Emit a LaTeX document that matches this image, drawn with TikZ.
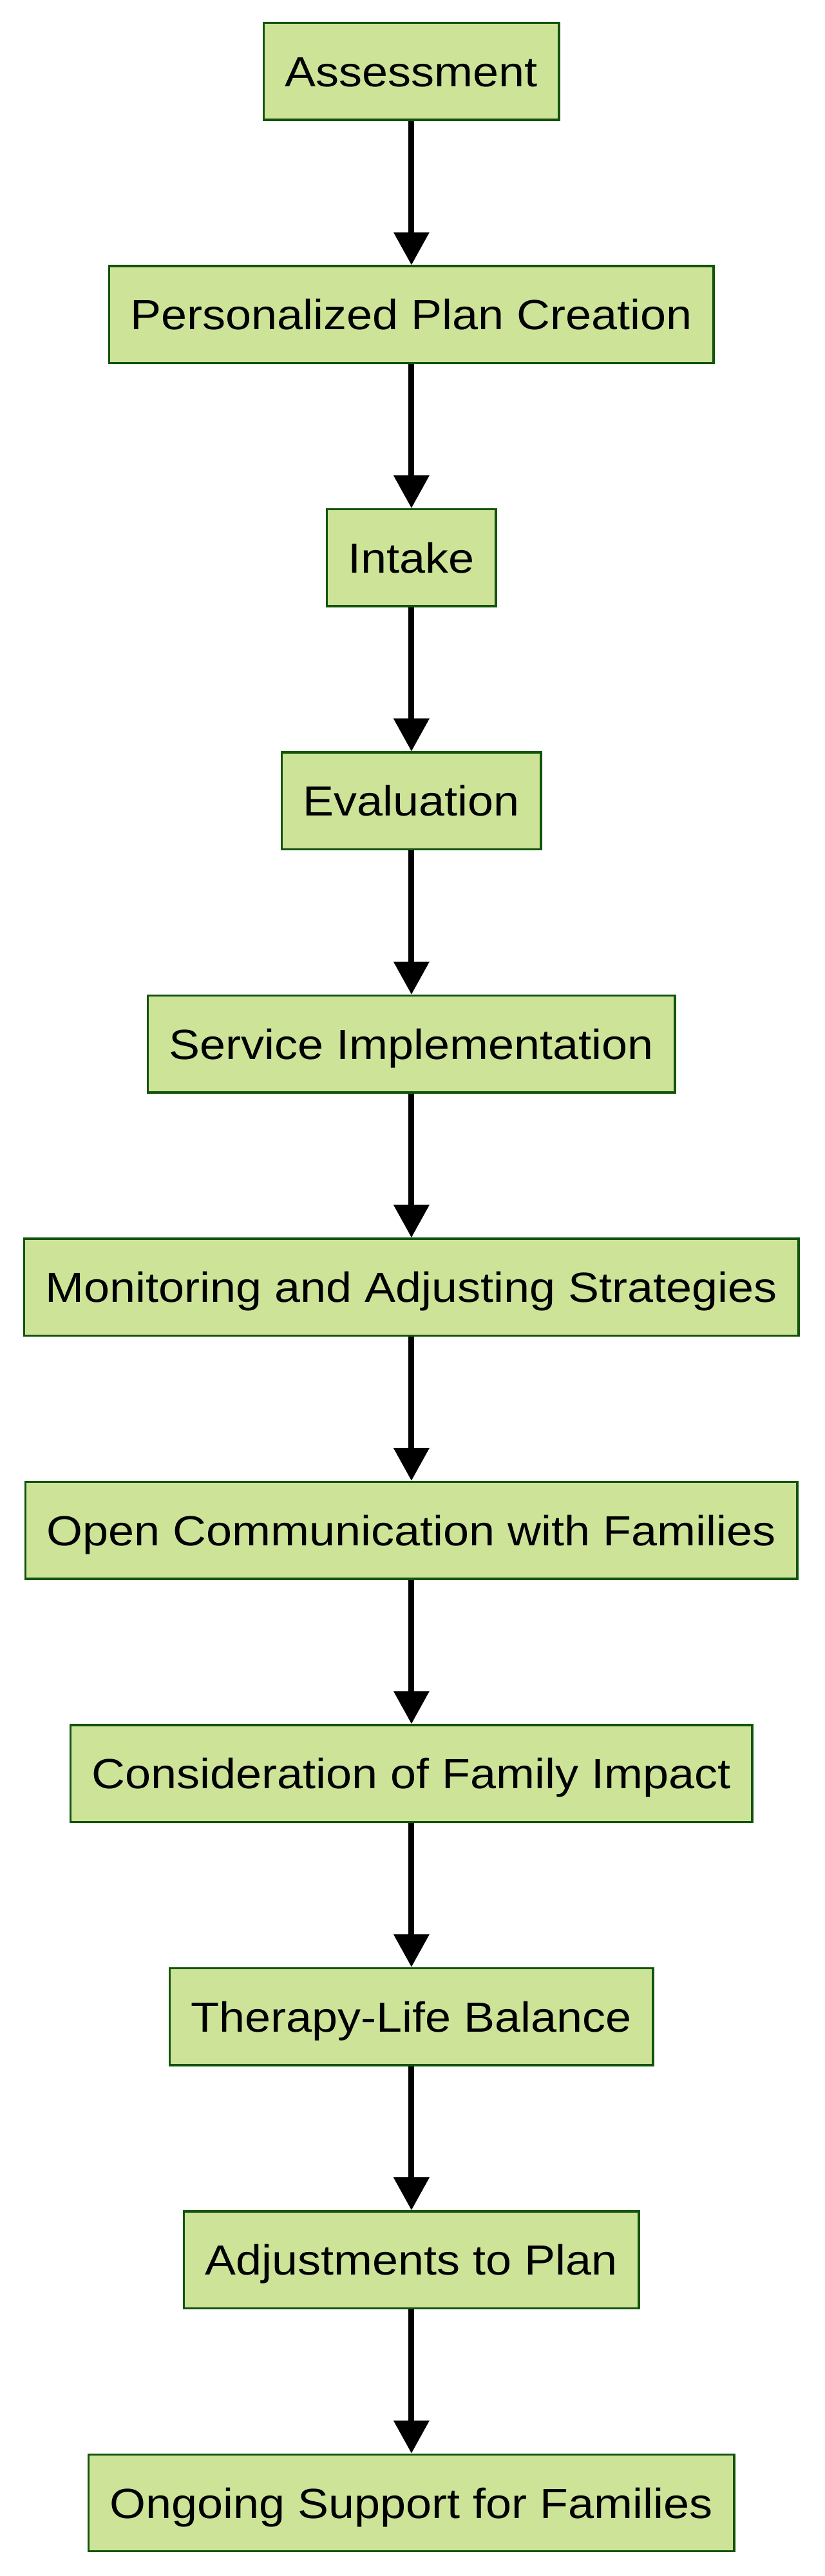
\documentclass[tikz,border=0pt]{standalone}
\usepackage{fontspec}
\setmainfont{Liberation Sans}[FakeStretch=1.1]
\usetikzlibrary{arrows.meta}
\definecolor{boxfill}{HTML}{CDE498}
\definecolor{boxline}{HTML}{13540C}
\tikzset{
	stepbox/.style = {draw = boxline, fill = boxfill, line width = 0.75pt, minimum height = 1.18cm, inner xsep = 0.26cm, text height = 0.5cm, text depth = 0.132cm, font = \fontsize{14.6}{17}\selectfont},
	flow/.style = {line width = 2pt, -{Triangle[length = 0.4cm, width = 0.42cm]}}
}
\begin{document}
\begin{tikzpicture}[x = 0.02cm, y = -0.02cm]
	\useasboundingbox (0,0) rectangle (502,1568);
	\node [stepbox] (assess) at (250.5,43.5) {Assessment};
	\node [stepbox] (plan) at (250.5,191.5) {Personalized Plan Creation};
	\node [stepbox] (intake) at (250.5,339.5) {Intake};
	\node [stepbox] (eval) at (250.5,487.5) {Evaluation};
	\node [stepbox] (service) at (250.5,635.5) {Service Implementation};
	\node [stepbox] (monitor) at (250.5,783.5) {Monitoring and Adjusting Strategies};
	\node [stepbox] (comms) at (250.5,931.5) {Open Communication with Families};
	\node [stepbox] (impact) at (250.5,1079.5) {Consideration of Family Impact};
	\node [stepbox] (balance) at (250.5,1227.5) {Therapy-Life Balance};
	\node [stepbox] (adjust) at (250.5,1375.5) {Adjustments to Plan};
	\node [stepbox] (support) at (250.5,1523.5) {Ongoing Support for Families};
	%\draw arrows
	\draw [flow] (assess) -- (plan);
	\draw [flow] (plan) -- (intake);
	\draw [flow] (intake) -- (eval);
	\draw [flow] (eval) -- (service);
	\draw [flow] (service) -- (monitor);
	\draw [flow] (monitor) -- (comms);
	\draw [flow] (comms) -- (impact);
	\draw [flow] (impact) -- (balance);
	\draw [flow] (balance) -- (adjust);
	\draw [flow] (adjust) -- (support);
\end{tikzpicture}
\end{document}
